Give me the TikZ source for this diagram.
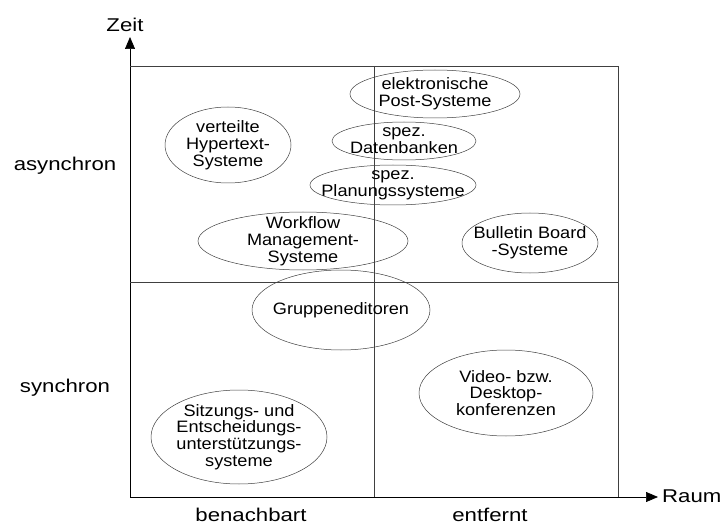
\documentclass[tikz,border=0pt]{standalone}
\usepackage{fontspec}
\setmainfont[FakeStretch=1.1]{Liberation Sans}
\newfontfamily\breitfont[FakeStretch=1.2]{Liberation Sans}
\usetikzlibrary{arrows.meta}

\begin{document}
\begin{tikzpicture}[x=1pt,y=-1pt,
  feld/.style={inner sep=0pt, align=center, font=\fontsize{16.5}{16.8}\selectfont},
  rand/.style={draw=black!75, line width=0.5pt},
  achse/.style={line width=0.7pt, -{Triangle[length=12pt,width=10pt]}},
  beschr/.style={inner sep=0pt, font=\breitfont\fontsize{18.5}{18.5}\selectfont}]
\useasboundingbox (0,0) rectangle (721,524);
%% axes and quadrants
\coordinate (origin) at (130,497);
\coordinate (ytip) at (130,37);
\coordinate (xtip) at (658,497);
\coordinate (tl) at (130,66);
\coordinate (tr) at (618,66);
\coordinate (br) at (618,497);
\coordinate (tm) at (374,66);
\coordinate (bm) at (374,497);
\coordinate (ml) at (130,282);
\coordinate (mr) at (618,282);
\draw[achse] (origin) -- (ytip);
\draw[achse] (origin) -- (xtip);
\draw[rand] (tl) -- (tr) -- (br);
\draw[rand] (tm) -- (bm);
\draw[rand] (ml) -- (mr);
%% axis texts
\node[beschr] (zeit) at (125,25) {Zeit};
\node[beschr, anchor=west] (raum) at (662,496) {Raum};
\node[beschr] (benachbart) at (251,515) {benachbart};
\node[beschr] (entfernt) at (490,515) {entfernt};
\node[beschr] (asynchron) at (65,166) {asynchron};
\node[beschr] (synchron) at (65,388) {synchron};
%% the systems, each text with its ellipse round it
\node[feld] (hypertext) at (228,145) {verteilte\\Hypertext-\\Systeme};
\node[feld] (post) at (435,94) {elektronische\\Post-Systeme};
\node[feld] (datenbanken) at (404,141) {spez.\\Datenbanken};
\node[feld] (planung) at (393,185) {spez.\\Planungssysteme};
\node[feld] (workflow) at (303,241) {Workflow\\Management-\\Systeme};
\node[feld] (bulletin) at (530,243) {Bulletin Board\\-Systeme};
\node[feld] (gruppe) at (341,310) {Gruppeneditoren};
\node[feld] (sitzung) at (239,437) {Sitzungs- und\\Entscheidungs-\\unterstützungs-\\systeme};
\node[feld] (video) at (506,393) {Video- bzw.\\Desktop-\\konferenzen};
\draw[rand] (hypertext.center) ellipse [x radius=63pt, y radius=38pt];
\draw[rand] (post.center) ellipse [x radius=85pt, y radius=24pt];
\draw[rand] (datenbanken.center) ellipse [x radius=72pt, y radius=19pt];
\draw[rand] (planung.center) ellipse [x radius=83pt, y radius=20pt];
\draw[rand] (workflow.center) ellipse [x radius=105pt, y radius=29pt];
\draw[rand] (bulletin.center) ellipse [x radius=68pt, y radius=30pt];
\draw[rand] (gruppe.center) ellipse [x radius=89pt, y radius=40pt];
\draw[rand] (sitzung.center) ellipse [x radius=88pt, y radius=47pt];
\draw[rand] (video.center) ellipse [x radius=87pt, y radius=43pt];
\end{tikzpicture}
\end{document}
